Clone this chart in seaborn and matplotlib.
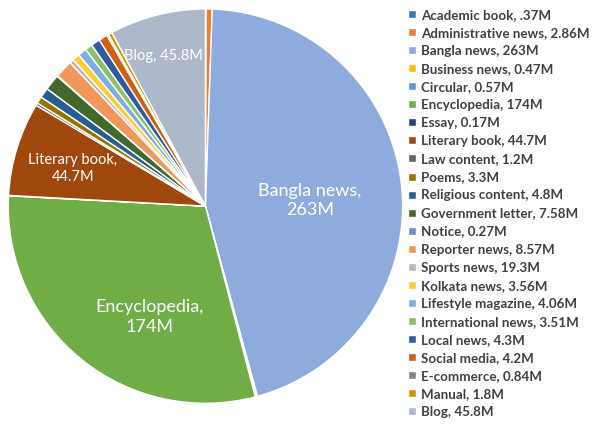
import numpy as np
import seaborn as sns
from matplotlib import pyplot as plt

categories = ["Academic book", "Administrative news", "Bangla news", "Business news",
              "Circular", "Encyclopedia", "Essay", "Literary book", "Law content",
              "Poems", "Religious content", "Government letter", "Notice",
              "Reporter news", "Sports news", "Kolkata news", "Lifestyle magazine",
              "International news", "Local news", "Social media", "E-commerce",
              "Manual", "Blog"]
value_labels = [".37M", "2.86M", "263M", "0.47M", "0.57M", "174M", "0.17M", "44.7M",
                "1.2M", "3.3M", "4.8M", "7.58M", "0.27M", "8.57M", "19.3M", "3.56M",
                "4.06M", "3.51M", "4.3M", "4.2M", "0.84M", "1.8M", "45.8M"]
# slice sizes as drawn (sports slice is drawn much thinner than its label)
sizes = [0.37, 2.86, 263, 0.47, 0.57, 174, 0.17, 44.7, 1.2, 3.3, 4.8, 7.58, 0.27,
         8.57, 1.93, 3.56, 4.06, 3.51, 4.3, 4.2, 0.84, 1.8, 45.8]
colors = ["#4472C4", "#ED7D31", "#8FAADC", "#FFC000", "#5B9BD5", "#70AD47", "#264478",
          "#9E480E", "#636363", "#997300", "#255E91", "#43682B", "#698ED0", "#F1975A",
          "#B7B7B7", "#FFCD33", "#7CAFDD", "#8CC168", "#335AA1", "#D26012", "#848484",
          "#CC9A00", "#ADB9CA"]

# inner labels: distance from centre (fraction of radius), angle nudge (deg), font size, separator
inner_labels = {"Bangla news": (0.53, -3.5, 13, "\n"), "Encyclopedia": (0.63, 12.5, 13, "\n"),
                "Literary book": (0.70, 1.0, 10.5, "\n"), "Blog": (0.79, 1.5, 10.5, " ")}


def main():
    sns.set_theme(style="white")
    plt.rcParams['font.family'] = ['Lato', 'DejaVu Sans']
    palette = sns.color_palette(colors)

    fig = plt.figure(figsize=(5.92, 4.25), dpi=100)
    ax = fig.add_axes([0.014, 0.05, 0.666, 0.93])
    wedges, _ = ax.pie(sizes, colors=palette, startangle=90, counterclock=False,
                       wedgeprops=dict(edgecolor="white", linewidth=1.0))
    ax.set_aspect("equal")
    ax.set_xlim(-1.0, 1.0)
    ax.set_ylim(-1.0, 1.0)

    for w, cat, lab in zip(wedges, categories, value_labels):
        if cat in inner_labels:
            d, nudge, fs, sep = inner_labels[cat]
            mid = np.deg2rad((w.theta1 + w.theta2) / 2 + nudge)
            ax.text(d * np.cos(mid), d * np.sin(mid), "{},{}{}".format(cat, sep, lab),
                    ha="center", va="center", color="white", fontsize=fs,
                    linespacing=1.27)

    legend_text = ["{}, {}".format(c, v) for c, v in zip(categories, value_labels)]
    fig.legend(wedges, legend_text, loc="upper left", bbox_to_anchor=(0.675, 1.0),
               frameon=False, handlelength=0.55, handleheight=0.55,
               handletextpad=0.4, labelspacing=0.455, borderaxespad=0.25,
               prop=dict(weight="bold", size=9.6), labelcolor="#404040")

    plt.savefig("out.png", dpi=100)


if __name__ == '__main__':
    main()
